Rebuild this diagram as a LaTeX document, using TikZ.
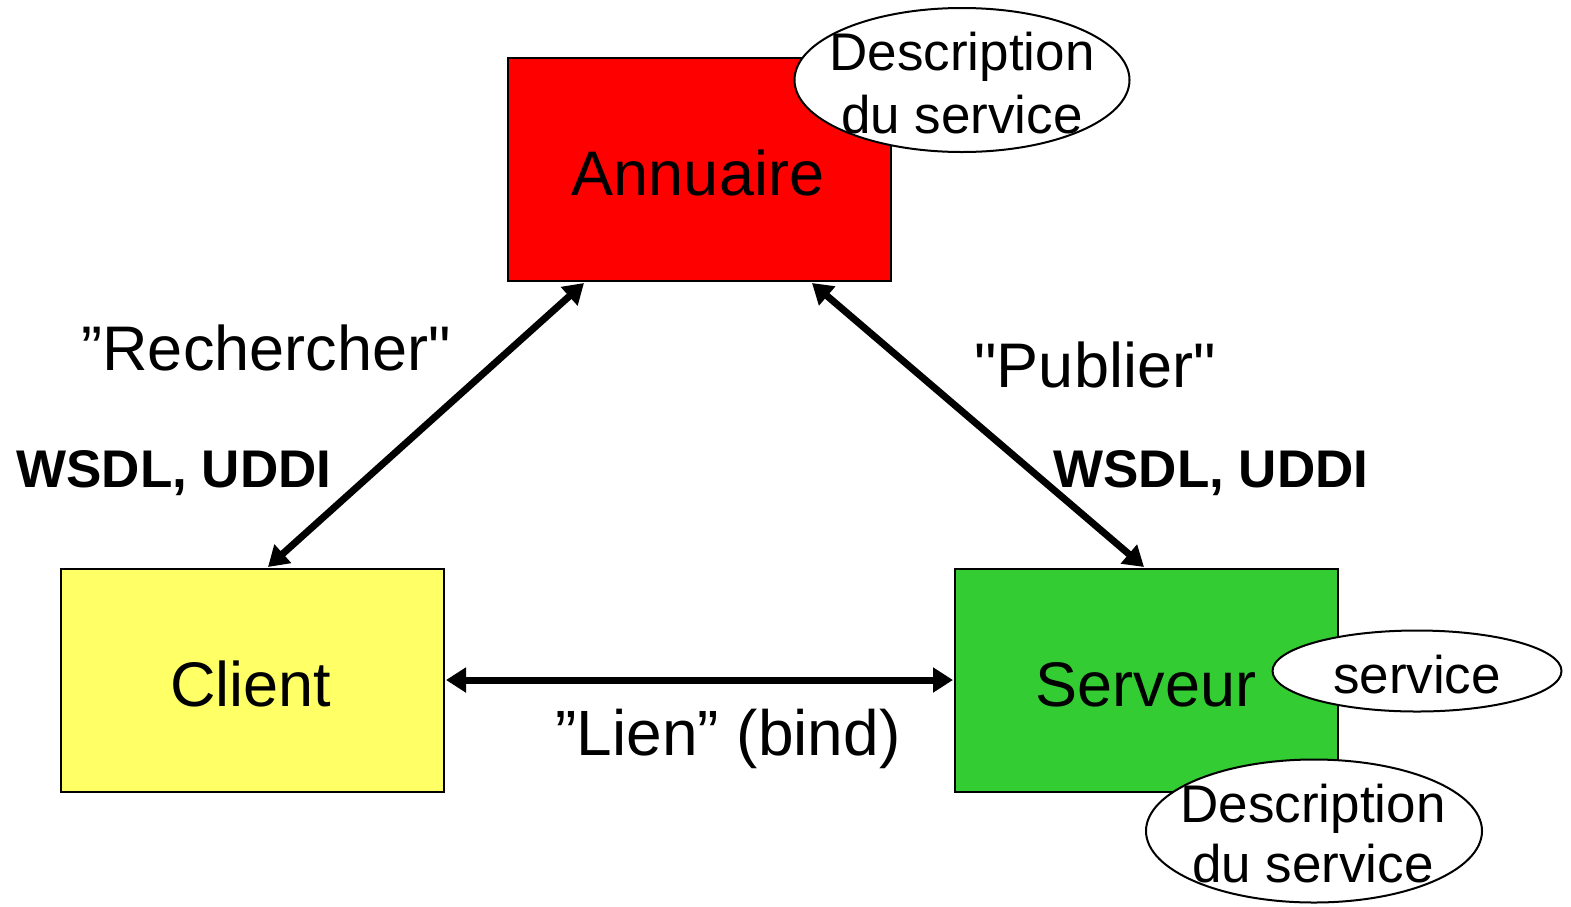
\documentclass[tikz,border=0pt]{standalone}
\usepackage{fontspec}
\setmainfont{Liberation Sans}[Ligatures=TeXOff]
\usetikzlibrary{arrows.meta,shapes.geometric,calc}
\definecolor{annred}{HTML}{FF0000}
\definecolor{cliyellow}{HTML}{FFFF66}
\definecolor{srvgreen}{HTML}{33CC33}
\begin{document}
\begin{tikzpicture}[x=1pt,y=-1pt,
  box/.style={draw=black, line width=2pt, minimum width=383pt, minimum height=223pt, inner sep=0pt, anchor=north west},
  bubble/.style={ellipse, draw=black, line width=2pt, fill=white, inner sep=0pt},
  big/.style={font=\fontsize{63}{63}\selectfont, inner sep=0pt, anchor=base},
  mid/.style={font=\fontsize{53}{53}\selectfont, inner sep=0pt, anchor=base},
  boldlbl/.style={font=\bfseries\fontsize{53}{53}\selectfont, inner sep=0pt, anchor=base},
  link/.style={line width=7pt, {Triangle[length=20pt,width=24pt]}-{Triangle[length=20pt,width=24pt]}}]
\useasboundingbox (0,0) rectangle (1571,906);
% boxes
\node[box, fill=annred] (ann) at (507,57) {};
\node[box, fill=cliyellow] (cli) at (60,568) {};
\node[box, fill=srvgreen] (srv) at (954,568) {};
% box labels
\node[big] (tann) at (698,195) {Annuaire};
\node[big] (tcli) at (251,706) {Client};
\node[big] (tsrv) at (1146,706) {Serveur};
% bubbles
\node[bubble, minimum width=335pt, minimum height=144pt] (e1) at (962,80) {};
\node[bubble, minimum width=289pt, minimum height=81pt] (e2) at (1417,671) {};
\node[bubble, minimum width=336pt, minimum height=143pt] (e3) at (1314,831) {};
\node[mid] (e1a) at (962,70) {Description};
\node[mid] (e1b) at (962,133) {du service};
\node[mid] (e2a) at (1417,693) {service};
\node[mid] (e3a) at (1313,822) {Description};
\node[mid] (e3b) at (1313,882) {du service};
% connectors
\draw[link] ($(ann.south west)+(77,1)$) -- ($(cli.north west)+(208,-1)$);
\draw[link] ($(ann.south west)+(305,1)$) -- ($(srv.north west)+(190,-1)$);
\draw[link] ($(cli.north east)+(1,112)$) -- ($(srv.north west)+(-1,112)$);
% connector labels
\node[big] (lrech) at (266,370) {”Rechercher"};
\node[boldlbl] (lw1) at (174,487) {WSDL, UDDI};
\node[big] (lpub) at (1095,387) {"Publier"};
\node[boldlbl] (lw2) at (1211,487) {WSDL, UDDI};
\node[big, font=\fontsize{64}{64}\selectfont] (llien) at (728,755) {”Lien” (bind)};
\end{tikzpicture}
\end{document}
